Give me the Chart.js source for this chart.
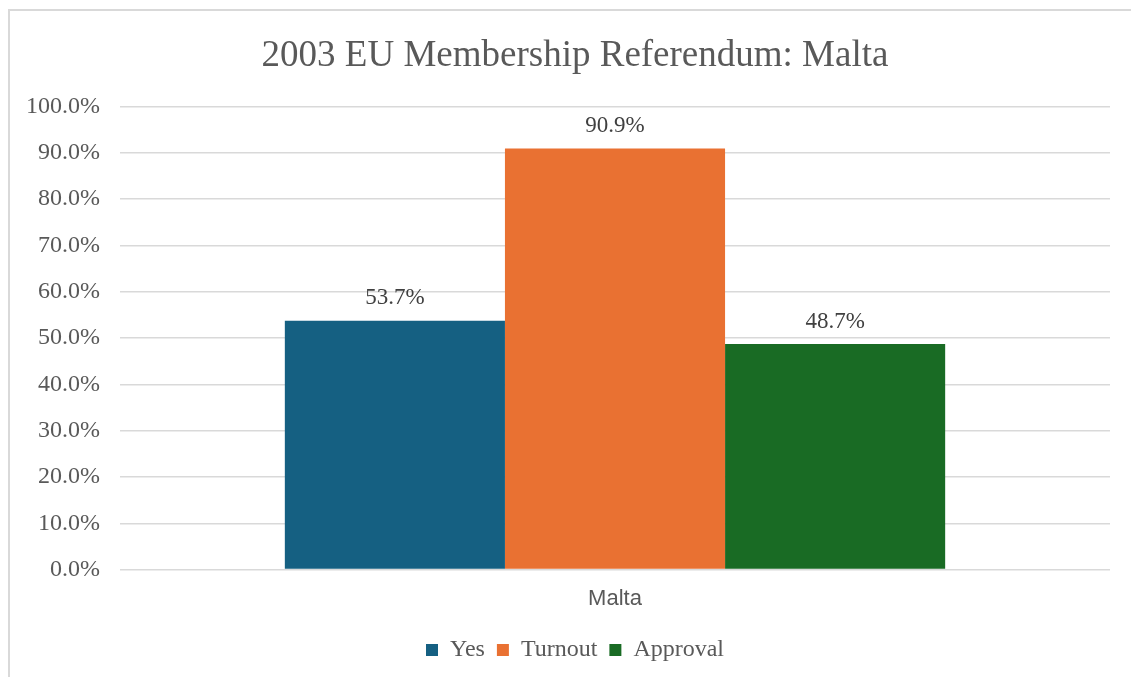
<!DOCTYPE html>
<html>
<head>
<meta charset="utf-8">
<script src="https://cdn.jsdelivr.net/npm/chart.js@4/dist/chart.umd.min.js"></script>
<style>
  html, body { margin: 0; padding: 0; background: #fff; }
  #frame {
    position: absolute; left: 8px; top: 9px; width: 1123px; height: 668px;
    border-top: 2px solid #d9d9d9; border-left: 2px solid #d9d9d9; box-sizing: border-box;
  }
  #wrap { position: absolute; left: 0; top: 0; width: 1121px; height: 666px; }
</style>
</head>
<body>
<div id="frame"><div id="wrap"><canvas id="refChart"></canvas></div></div>
<script>
// Dữ liệu biểu đồ
const categories = ['Malta'];
const seriesNames = ['Yes', 'Turnout', 'Approval'];
const yesValues = [0.537];
const turnoutValues = [0.909];
const approvalValues = [0.487];
const yTicks = [0, 0.1, 0.2, 0.3, 0.4, 0.5, 0.6, 0.7, 0.8, 0.9, 1.0];

const colors = ['#156082', '#E97132', '#196B24'];
const serif = '"Liberation Serif", "Times New Roman", serif';

// Nhãn giá trị phía trên mỗi cột
const valueLabels = {
  id: 'valueLabels',
  afterDatasetsDraw(chart) {
    const ctx = chart.ctx;
    ctx.save();
    ctx.font = '23px ' + serif;
    ctx.fillStyle = '#404040';
    ctx.textAlign = 'center';
    ctx.textBaseline = 'bottom';
    chart.data.datasets.forEach((ds, i) => {
      chart.getDatasetMeta(i).data.forEach((bar, j) => {
        const v = ds.data[j];
        ctx.fillText((v * 100).toFixed(1) + '%', bar.x, bar.y - 11);
      });
    });
    ctx.restore();
  }
};

const ctx = document.getElementById('refChart').getContext('2d');
new Chart(ctx, {
  type: 'bar',
  data: {
    labels: categories,
    datasets: [
      { label: seriesNames[0], data: yesValues, backgroundColor: colors[0] },
      { label: seriesNames[1], data: turnoutValues, backgroundColor: colors[1] },
      { label: seriesNames[2], data: approvalValues, backgroundColor: colors[2] }
    ]
  },
  options: {
    responsive: true,
    maintainAspectRatio: false,
    animation: false,
    layout: { padding: { left: 30, right: 21, top: 0, bottom: 5 } },
    datasets: { bar: { categoryPercentage: 0.667, barPercentage: 1.0 } },
    plugins: {
      title: {
        display: true,
        text: '2003 EU Membership Referendum: Malta',
        color: '#595959',
        font: { family: serif, size: 37, weight: 'normal' },
        padding: { top: 23, bottom: 28 }
      },
      legend: {
        position: 'bottom',
        labels: {
          color: '#595959',
          font: { family: serif, size: 24 },
          boxWidth: 12,
          boxHeight: 12,
          padding: 12
        }
      },
      tooltip: { enabled: false }
    },
    scales: {
      x: {
        grid: { display: false },
        border: { display: false },
        ticks: {
          color: '#595959',
          font: { family: '"Liberation Sans", Arial, sans-serif', size: 22 },
          padding: 8
        },
        afterFit(axis) { axis.height += 6; }
      },
      y: {
        min: 0,
        max: 1,
        afterBuildTicks(axis) { axis.ticks = yTicks.map(v => ({ value: v })); },
        grid: { color: '#d9d9d9', lineWidth: 1.5, drawTicks: false },
        border: { display: false },
        ticks: {
          color: '#595959',
          font: { family: serif, size: 24 },
          // nhãn căn phải, nằm ngoài vùng vẽ
          mirror: true,
          crossAlign: 'far',
          padding: -94,
          callback: v => (v * 100).toFixed(1) + '%'
        },
        afterFit(axis) { axis.width = 80; }
      }
    }
  },
  plugins: [valueLabels]
});
</script>
</body>
</html>
